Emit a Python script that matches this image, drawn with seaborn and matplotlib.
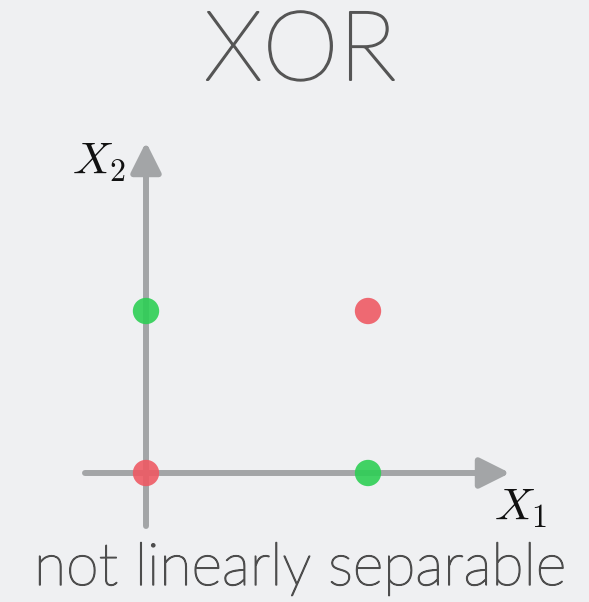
import matplotlib
matplotlib.use("Agg")
import matplotlib.pyplot as plt
import matplotlib.patheffects as pe
import seaborn as sns
import pandas as pd

# XOR truth table: inputs and output class
x1 = [0, 1, 0, 1]
x2 = [0, 0, 1, 1]
xor_out = ["0", "1", "1", "0"]
class_colors = {"1": "#2ecf55", "0": "#ee5a64"}

title = "XOR"
caption = "not linearly separable"
x1_label = r"$X_1$"
x2_label = r"$X_2$"

sns.set_theme(style="white")
plt.rcParams["mathtext.fontset"] = "cm"
plt.rcParams["font.family"] = ["Lato", "DejaVu Sans"]

W, H = 589, 602
bg = "#eff0f2"
fig = plt.figure(figsize=(W / 100, H / 100), dpi=100)
fig.patch.set_facecolor(bg)
ax = fig.add_axes([0, 0, 1, 1])
ax.set_facecolor(bg)

# pixel position of the origin and size of one unit
ox, oy = 146, 473
ux, uy = 222, 162
ax.set_xlim((0 - ox) / ux, (W - ox) / ux)
ax.set_ylim((oy - H) / uy, oy / uy)
ax.set_axis_off()

axis_color = "#a3a5a7"
arrow = dict(arrowstyle="-|>", color=axis_color, lw=4.3,
             mutation_scale=46, shrinkA=0, shrinkB=0)
# horizontal and vertical axes with arrow heads
ax.annotate("", xy=((510 - ox) / ux, 0), xytext=((85 - ox) / ux, 0),
            arrowprops=arrow, zorder=1)
ax.annotate("", xy=(0, (oy - 142) / uy), xytext=(0, (oy - 526) / uy),
            arrowprops=arrow, zorder=1)

df = pd.DataFrame({"x1": x1, "x2": x2, "out": xor_out})
sns.scatterplot(data=df, x="x1", y="x2", hue="out", palette=class_colors,
                s=360, alpha=0.9, linewidth=0, legend=False, ax=ax, zorder=3)

ax.text(521 / W, 1 - 509 / H, x1_label, transform=fig.transFigure,
        fontsize=33, ha="center", va="center", color="#111111")
ax.text(99 / W, 1 - 163 / H, x2_label, transform=fig.transFigure,
        fontsize=33, ha="center", va="center", color="#111111")

title_color = "#555555"
caption_color = "#4d4d4d"
fig.text(300 / W, 1 - 80 / H, title, fontsize=70, fontweight="light",
         ha="center", va="baseline", color=title_color,
         path_effects=[pe.withStroke(linewidth=1.4, foreground=title_color)])
fig.text(300 / W, 1 - 585 / H, caption, fontsize=42.5, fontweight="light",
         ha="center", va="baseline", color=caption_color,
         path_effects=[pe.withStroke(linewidth=1.0, foreground=caption_color)])

fig.savefig("out.png", dpi=100, facecolor=bg)
